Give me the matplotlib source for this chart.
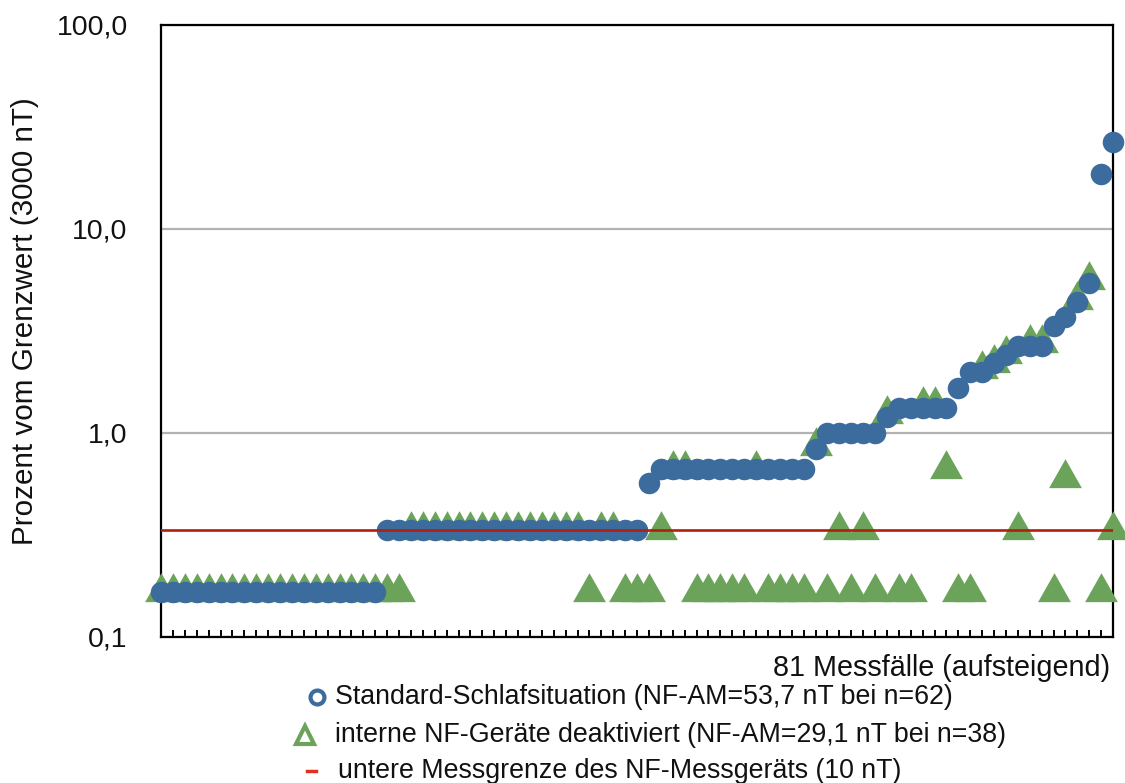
import numpy as np
import matplotlib
matplotlib.use("Agg")
import matplotlib.pyplot as plt
from matplotlib.path import Path
from matplotlib.lines import Line2D
from matplotlib.ticker import FixedLocator, NullLocator

plt.rcParams['font.family'] = ['Liberation Sans', 'DejaVu Sans']

# Prozent vom Grenzwert (3000 nT), 81 Messfaelle aufsteigend nach Standard-Schlafsituation
standard = [0.167, 0.167, 0.167, 0.167, 0.167, 0.167, 0.167, 0.167, 0.167, 0.167,
            0.167, 0.167, 0.167, 0.167, 0.167, 0.167, 0.167, 0.167, 0.167, 0.333,
            0.333, 0.333, 0.333, 0.333, 0.333, 0.333, 0.333, 0.333, 0.333, 0.333,
            0.333, 0.333, 0.333, 0.333, 0.333, 0.333, 0.333, 0.333, 0.333, 0.333,
            0.333, 0.567, 0.667, 0.667, 0.667, 0.667, 0.667, 0.667, 0.667, 0.667,
            0.667, 0.667, 0.667, 0.667, 0.667, 0.833, 1.0, 1.0, 1.0, 1.0,
            1.0, 1.2, 1.333, 1.333, 1.333, 1.333, 1.333, 1.667, 2.0, 2.0,
            2.2, 2.4, 2.667, 2.667, 2.667, 3.333, 3.7, 4.4, 5.45, 18.5,
            26.7]

# gleiche Messfaelle mit deaktivierten internen NF-Geraeten
deaktiviert = [0.167, 0.167, 0.167, 0.167, 0.167, 0.167, 0.167, 0.167, 0.167, 0.167,
               0.167, 0.167, 0.167, 0.167, 0.167, 0.167, 0.167, 0.167, 0.167, 0.167,
               0.167, 0.333, 0.333, 0.333, 0.333, 0.333, 0.333, 0.333, 0.333, 0.333,
               0.333, 0.333, 0.333, 0.333, 0.333, 0.333, 0.167, 0.333, 0.333, 0.167,
               0.167, 0.167, 0.333, 0.667, 0.667, 0.167, 0.167, 0.167, 0.167, 0.167,
               0.667, 0.167, 0.167, 0.167, 0.167, 0.867, 0.167, 0.333, 0.167, 0.333,
               0.167, 1.233, 0.167, 0.167, 1.367, 1.367, 0.667, 0.167, 0.167, 2.07,
               2.2, 2.43, 0.333, 2.77, 2.77, 0.167, 0.6, 4.5, 5.6, 0.167,
               0.333]

messgrenze = 0.333  # 10 nT von 3000 nT

ytick_vals = [0.1, 1, 10, 100]
ytick_labels = ['0,1', '1,0', '10,0', '100,0']

legend_labels = ['Standard-Schlafsituation (NF-AM=53,7 nT bei n=62)',
                 'interne NF-Geräte deaktiviert (NF-AM=29,1 nT bei n=38)',
                 'untere Messgrenze des NF-Messgeräts (10 nT)']

blue = '#3c6c9e'
green = '#6ca35a'
red = '#b21f0c'
grid_gray = '#b3b3b3'

W, H = 1125, 783
fig = plt.figure(figsize=(W / 100, H / 100), dpi=100)
ax = fig.add_axes([161 / W, 1 - 637 / H, (1113 - 161) / W, (637 - 25) / H])

x = np.arange(len(standard))

# Dreieck mit Schwerpunkt im Ursprung
tri = Path([(0, 1), (-0.85, -0.5), (0.85, -0.5), (0, 1)], closed=True)

ax.plot(x, deaktiviert, ls='none', marker=tri, ms=27.8, mfc=green, mec=green,
        mew=0, clip_on=False, zorder=3)
ax.plot(x, standard, ls='none', marker='o', ms=15.5, mfc=blue, mec=blue,
        mew=0, clip_on=False, zorder=4)
ax.axhline(messgrenze, color=red, lw=1.9, zorder=5)

ax.set_yscale('log')
ax.set_ylim(0.1, 100)
ax.set_xlim(0, len(standard) - 1)
ax.yaxis.set_major_locator(FixedLocator(ytick_vals))
ax.yaxis.set_minor_locator(NullLocator())
ax.set_yticklabels(ytick_labels)
ax.grid(axis='y', color=grid_gray, lw=1.6)
ax.set_axisbelow(True)
ax.tick_params(axis='y', length=0, pad=24, labelsize=20.5, colors='#111111')

ax.set_xticks(np.arange(1, len(standard) - 1))
ax.tick_params(axis='x', direction='in', length=5, width=1.4, labelbottom=False)

for s in ax.spines.values():
    s.set_linewidth(1.6)
    s.set_color('black')

fig.text(25 / W, 1 - 321 / H, 'Prozent vom Grenzwert (3000 nT)', rotation=90,
         ha='center', va='center', fontsize=21.3, color='#111111')
fig.text(1110 / W, 1 - 668 / H, '81 Messfälle (aufsteigend)', ha='right', va='center',
         fontsize=20.7, color='#111111')

# Legende
rows_y = [697, 735, 771]
text_x = [335, 335, 338]
fig.add_artist(Line2D([317 / W], [1 - rows_y[0] / H], transform=fig.transFigure, marker='o',
                      ms=10, mfc='none', mec=blue, mew=3))
fig.add_artist(Line2D([305 / W], [1 - rows_y[1] / H], transform=fig.transFigure, marker='^',
                      ms=13, mfc='none', mec=green, mew=3))
fig.add_artist(Line2D([307 / W, 316 / W], [1 - rows_y[2] / H] * 2, transform=fig.transFigure,
                      color='#e0301e', lw=2.5))
for lab, tx, ty in zip(legend_labels, text_x, rows_y):
    fig.text(tx / W, 1 - ty / H, lab, ha='left', va='center', fontsize=19.3, color='#111111')

fig.savefig('out.png', dpi=100)
